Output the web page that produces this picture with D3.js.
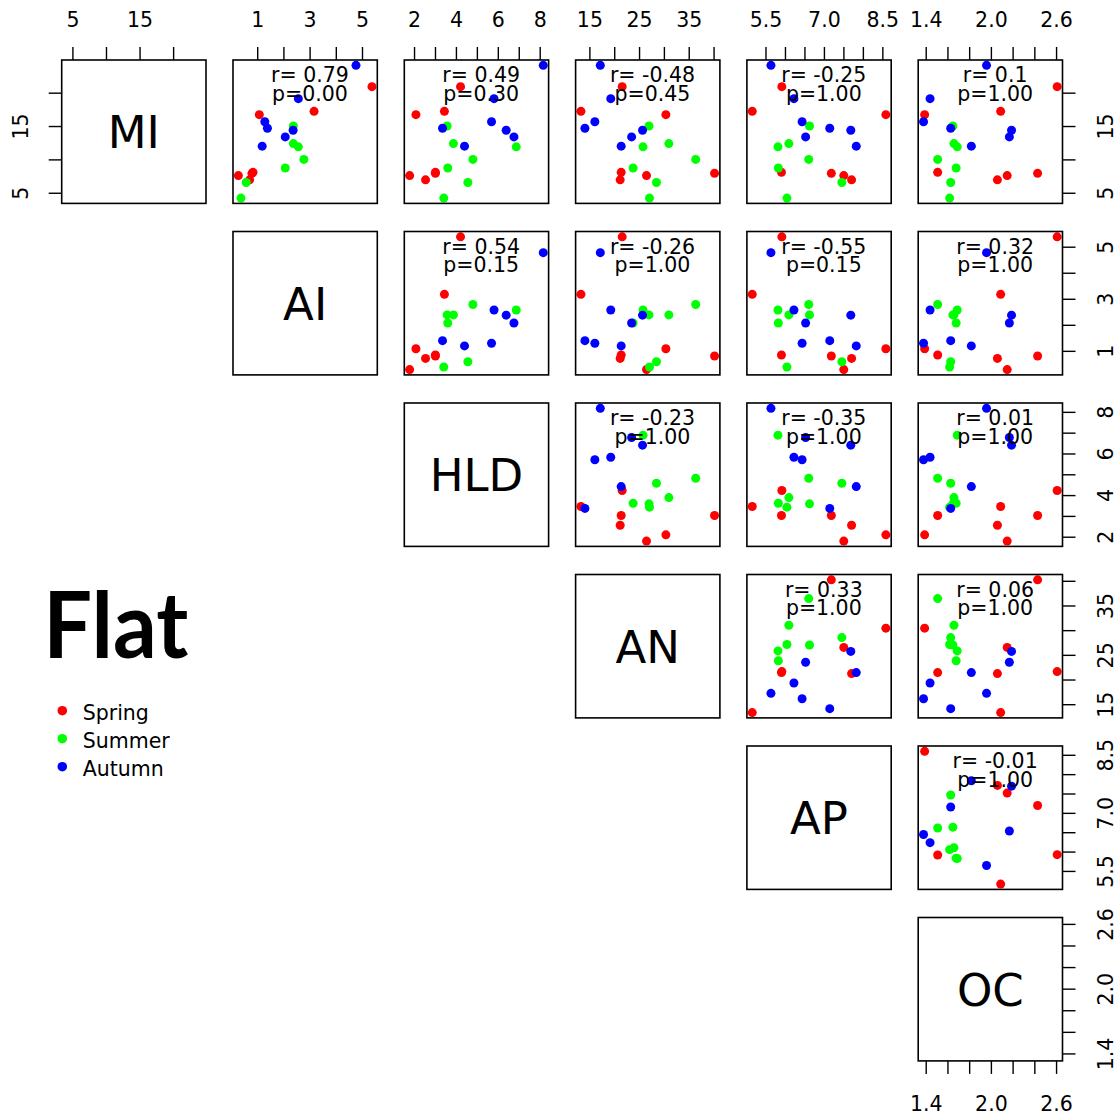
<!DOCTYPE html>
<html>
<head>
<meta charset="utf-8">
<script src="https://cdn.jsdelivr.net/npm/d3@7"></script>
<style>
  body { margin: 0; background: #ffffff; }
  svg { display: block; }
</style>
</head>
<body>
<svg id="chart" width="1117" height="1117"></svg>
<script>
// ---- data ----------------------------------------------------------------
const variables = ["MI", "AI", "HLD", "AN", "AP", "OC"];
const seasons = ["Spring", "Summer", "Autumn"];
const seasonColors = ["#FF0000", "#00FF00", "#0000FF"];

// season index of every observation (7 sites per season)
const season = [0, 0, 0, 0, 0, 0, 0,
                1, 1, 1, 1, 1, 1, 1,
                2, 2, 2, 2, 2, 2, 2];

const MI  = [20.9, 17.2, 16.7, 8.06, 7.91, 7.57, 6.93,
             4.2, 6.53, 8.71, 15.0, 12.37, 11.88, 10.0,
             24.1, 19.1, 15.64, 14.66, 14.36, 13.37, 11.98];
const AI  = [5.38, 3.17, 1.08, 0.84, 0.80, 0.28, 0.71,
             0.38, 0.58, 2.07, 2.38, 2.38, 2.57, 2.78,
             4.77, 2.57, 1.29, 1.39, 2.37, 2.07, 1.19];
const HLD = [4.22, 3.45, 2.09, 3.02, 3.02, 1.79, 2.55,
             3.42, 4.57, 3.61, 3.58, 3.88, 6.88, 4.81,
             8.17, 5.82, 5.70, 3.36, 6.40, 6.77, 4.41];
const AN  = [21.6, 13.3, 30.4, 21.4, 40.2, 26.5, 21.2,
             27.1, 28.5, 23.8, 27.0, 31.0, 25.8, 36.4,
             17.2, 19.3, 16.1, 14.1, 25.7, 23.5, 21.4];
const AP  = [5.92, 5.16, 8.59, 5.91, 7.19, 7.51, 7.71,
             6.05, 7.46, 5.83, 6.63, 6.10, 5.82, 6.61,
             5.64, 6.23, 6.44, 7.15, 7.69, 6.53, 7.83];
const OC  = [2.61, 2.09, 1.39, 1.51, 2.43, 2.15, 2.06,
             1.62, 1.63, 1.68, 1.65, 1.66, 1.69, 1.51,
             1.96, 1.44, 1.38, 1.63, 2.19, 2.17, 1.82];

// axis ticks and their printed labels ("" = unlabelled tick)
const ticksMI  = [5, 10, 15, 20];
const labelsMI = ["5", "", "15", ""];
const ticksAI  = [1, 2, 3, 4, 5];
const labelsAI = ["1", "", "3", "", "5"];
const ticksHLD  = [2, 3, 4, 5, 6, 7, 8];
const labelsHLD = ["2", "", "4", "", "6", "", "8"];
const ticksAN  = [15, 20, 25, 30, 35, 40];
const labelsAN = ["15", "", "25", "", "35", ""];
const ticksAP  = [5.5, 6, 6.5, 7, 7.5, 8, 8.5];
const labelsAP = ["5.5", "", "", "7.0", "", "", "8.5"];
const ticksOC  = [1.4, 1.6, 1.8, 2.0, 2.2, 2.4, 2.6];
const labelsOC = ["1.4", "", "", "2.0", "", "", "2.6"];

// correlation annotations for the upper panels, keyed "row-col"
const corrPairs = ["0-1", "0-2", "0-3", "0-4", "0-5",
                   "1-2", "1-3", "1-4", "1-5",
                   "2-3", "2-4", "2-5",
                   "3-4", "3-5",
                   "4-5"];
const corrR = ["r= 0.79", "r= 0.49", "r= -0.48", "r= -0.25", "r= 0.1",
               "r= 0.54", "r= -0.26", "r= -0.55", "r= 0.32",
               "r= -0.23", "r= -0.35", "r= 0.01",
               "r= 0.33", "r= 0.06",
               "r= -0.01"];
const corrP = ["p=0.00", "p=0.30", "p=0.45", "p=1.00", "p=1.00",
               "p=0.15", "p=1.00", "p=0.15", "p=1.00",
               "p=1.00", "p=1.00", "p=1.00",
               "p=1.00", "p=1.00",
               "p=1.00"];

const title = "Flat";

// ---- layout ---------------------------------------------------------------
const FONT = "'DejaVu Sans', sans-serif";
const panelW = 144.3, panelH = 143.4;
const pitchX = 171.3, pitchY = 171.5;
const x0 = 61.7, y0 = 60;
const n = variables.length;

const columns = [MI, AI, HLD, AN, AP, OC];
const tickSets = [ticksMI, ticksAI, ticksHLD, ticksAN, ticksAP, ticksOC];
const labelSets = [labelsMI, labelsAI, labelsHLD, labelsAN, labelsAP, labelsOC];

// 4% padded domain, as in base graphics
function padded(v) {
  const [a, b] = d3.extent(v);
  const p = (b - a) * 0.04;
  return [a - p, b + p];
}
const colLeft = i => x0 + i * pitchX;
const rowTop = i => y0 + i * pitchY;

const xScales = columns.map((v, i) =>
  d3.scaleLinear().domain(padded(v)).range([colLeft(i), colLeft(i) + panelW]));
const yScales = columns.map((v, i) =>
  d3.scaleLinear().domain(padded(v)).range([rowTop(i) + panelH, rowTop(i)]));

const svg = d3.select("#chart");
svg.append("rect").attr("width", 1117).attr("height", 1117).attr("fill", "#fff");

const fmtFor = i => d => {
  const k = tickSets[i].indexOf(d);
  return k >= 0 ? labelSets[i][k] : "";
};

// ---- upper-triangle scatter panels ---------------------------------------
const obs = d3.range(MI.length);
for (let i = 0; i < n; i++) {
  for (let j = i + 1; j < n; j++) {
    const g = svg.append("g").attr("class", `panel-${i}-${j}`);
    g.selectAll("circle")
      .data(obs)
      .join("circle")
      .attr("cx", k => xScales[j](columns[j][k]))
      .attr("cy", k => yScales[i](columns[i][k]))
      .attr("r", 4.5)
      .attr("fill", k => seasonColors[season[k]]);

    const idx = corrPairs.indexOf(`${i}-${j}`);
    const cx = colLeft(j) + panelW * 0.533;
    g.append("text")
      .attr("x", cx).attr("y", rowTop(i) + 22)
      .attr("text-anchor", "middle")
      .attr("font-family", FONT).attr("font-size", 20.5)
      .attr("fill", "#000")
      .text(corrR[idx]);
    g.append("text")
      .attr("x", cx).attr("y", rowTop(i) + 40.5)
      .attr("text-anchor", "middle")
      .attr("font-family", FONT).attr("font-size", 20.5)
      .attr("fill", "#000")
      .text(corrP[idx]);

    g.append("rect")
      .attr("x", colLeft(j)).attr("y", rowTop(i))
      .attr("width", panelW).attr("height", panelH)
      .attr("fill", "none").attr("stroke", "#000").attr("stroke-width", 1.6);
  }
}

// ---- diagonal name panels -------------------------------------------------
for (let i = 0; i < n; i++) {
  svg.append("rect")
    .attr("x", colLeft(i)).attr("y", rowTop(i))
    .attr("width", panelW).attr("height", panelH)
    .attr("fill", "none").attr("stroke", "#000").attr("stroke-width", 1.6);
  svg.append("text")
    .attr("x", colLeft(i) + panelW / 2)
    .attr("y", rowTop(i) + panelH / 2 + 16.4)
    .attr("text-anchor", "middle")
    .attr("font-family", FONT).attr("font-size", 45)
    .attr("fill", "#000")
    .text(variables[i]);
}

// ---- axes -----------------------------------------------------------------
function styleAxis(g) {
  g.select(".domain").remove();
  g.selectAll(".tick line").attr("stroke", "#000").attr("stroke-width", 1.4);
  g.selectAll(".tick text")
    .attr("font-family", FONT).attr("font-size", 20.5).attr("fill", "#000");
}

// top axes along the first row
for (let j = 0; j < n; j++) {
  svg.append("g")
    .attr("transform", `translate(0,${rowTop(0)})`)
    .call(d3.axisTop(xScales[j]).tickValues(tickSets[j]).tickFormat(fmtFor(j))
      .tickSize(13).tickPadding(20))
    .call(styleAxis);
}

// bottom axis under the last column
svg.append("g")
  .attr("transform", `translate(0,${rowTop(n - 1) + panelH})`)
  .call(d3.axisBottom(xScales[n - 1]).tickValues(tickSets[n - 1]).tickFormat(fmtFor(n - 1))
    .tickSize(13).tickPadding(22.4))
  .call(styleAxis);

// left axis beside the first row
svg.append("g")
  .attr("transform", `translate(${colLeft(0)},0)`)
  .call(d3.axisLeft(yScales[0]).tickValues(tickSets[0]).tickFormat(fmtFor(0)).tickSize(13))
  .call(styleAxis)
  .call(g => g.selectAll(".tick text")
    .attr("x", null).attr("dy", null)
    .attr("text-anchor", "middle")
    .attr("transform", "translate(-33.4,0) rotate(-90)"));

// right axes for every row
const rightEdge = colLeft(n - 1) + panelW;
for (let i = 0; i < n; i++) {
  svg.append("g")
    .attr("transform", `translate(${rightEdge},0)`)
    .call(d3.axisRight(yScales[i]).tickValues(tickSets[i]).tickFormat(fmtFor(i)).tickSize(13))
    .call(styleAxis)
    .call(g => g.selectAll(".tick text")
      .attr("x", null).attr("dy", null)
      .attr("text-anchor", "middle")
      .attr("transform", "translate(50,0) rotate(-90)"));
}

// ---- title and season legend ---------------------------------------------
svg.append("text")
  .attr("x", 43.3).attr("y", 658.3)
  .attr("font-family", "Lato, 'Open Sans', sans-serif")
  .attr("font-weight", 700)
  .attr("font-size", 92)
  .attr("textLength", 145)
  .attr("lengthAdjust", "spacingAndGlyphs")
  .attr("fill", "#000")
  .text(title);

const legend = svg.append("g").attr("class", "legend");
seasons.forEach((s, k) => {
  const y = 710.7 + k * 28;
  legend.append("circle")
    .attr("cx", 62.3).attr("cy", y).attr("r", 4.8)
    .attr("fill", seasonColors[k]);
  legend.append("text")
    .attr("x", 82.7).attr("y", y + 9.5)
    .attr("font-family", FONT).attr("font-size", 20.5)
    .attr("fill", "#000")
    .text(s);
});
</script>
</body>
</html>
